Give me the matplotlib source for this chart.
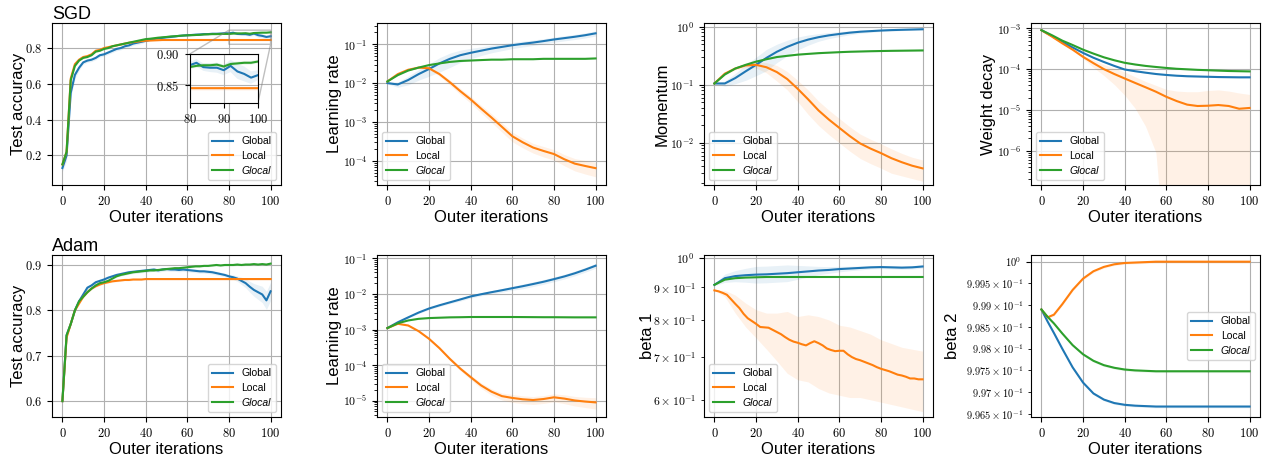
import numpy as np
import matplotlib
matplotlib.use("Agg")
import matplotlib.pyplot as plt
from matplotlib import ticker

plt.rcParams['font.family'] = ['Liberation Sans', 'DejaVu Sans']
plt.rcParams['mathtext.fontset'] = 'cm'

# x grids
x_acc = list(range(0, 101, 2))
x_hp = list(range(0, 101, 5))
x_b2 = [0, 3, 6] + list(range(10, 101, 5))

# ---- SGD: test accuracy ----
sgd_acc_global = [0.13, 0.20, 0.55, 0.65, 0.69, 0.72, 0.73, 0.735, 0.745, 0.76,
                  0.765, 0.775, 0.785, 0.795, 0.80, 0.81, 0.815, 0.825, 0.83, 0.835,
                  0.84, 0.845, 0.85, 0.855, 0.857, 0.86, 0.862, 0.865, 0.868, 0.87,
                  0.872, 0.873, 0.875, 0.876, 0.878, 0.878, 0.88, 0.88, 0.881, 0.883,
                  0.882, 0.886, 0.879, 0.878, 0.878, 0.874, 0.881, 0.872, 0.868, 0.862,
                  0.866]
sgd_acc_local = [0.15, 0.22, 0.63, 0.71, 0.735, 0.75, 0.755, 0.765, 0.785, 0.79,
                 0.80, 0.805, 0.81, 0.815, 0.82, 0.825, 0.83, 0.833, 0.836, 0.839,
                 0.841, 0.842, 0.843, 0.844] + [0.845] * 27
sgd_acc_glocal = [0.15, 0.22, 0.62, 0.70, 0.73, 0.745, 0.75, 0.76, 0.78, 0.785,
                  0.795, 0.80, 0.81, 0.815, 0.82, 0.825, 0.83, 0.835, 0.84, 0.845,
                  0.85, 0.852, 0.855, 0.858, 0.86, 0.862, 0.865, 0.866, 0.868, 0.87,
                  0.871, 0.872, 0.873, 0.874, 0.876, 0.877, 0.878, 0.878, 0.879, 0.879,
                  0.879, 0.881, 0.882, 0.882, 0.883, 0.880, 0.884, 0.885, 0.886, 0.886,
                  0.888]
sgd_acc_global_std = ([0.02, 0.03, 0.03, 0.02, 0.015] + [0.01] * 15 + [0.005] * 20
                      + [0.005, 0.006, 0.006, 0.007, 0.008, 0.008, 0.01, 0.012, 0.012, 0.01, 0.008])
sgd_acc_other_std = 0.003

# ---- SGD: learning rate / momentum / weight decay ----
sgd_lr_global = [0.010, 0.0092, 0.012, 0.017, 0.023, 0.032, 0.042, 0.052, 0.060, 0.068,
                 0.077, 0.085, 0.094, 0.102, 0.110, 0.120, 0.132, 0.143, 0.155, 0.170, 0.190]
sgd_lr_local = [0.011, 0.017, 0.022, 0.025, 0.024, 0.017, 0.0105, 0.0062, 0.0038, 0.0022,
                0.0013, 0.00075, 0.00043, 0.00030, 0.00022, 0.00018, 0.00015, 0.00011,
                0.000085, 0.000074, 0.000065]
sgd_lr_glocal = [0.011, 0.016, 0.021, 0.025, 0.029, 0.032, 0.035, 0.037, 0.038, 0.039,
                 0.040, 0.040, 0.041, 0.041, 0.041, 0.042, 0.042, 0.042, 0.042, 0.042, 0.043]
sgd_lr_global_rel = [0.05, 0.15, 0.25, 0.3, 0.35, 0.4, 0.4, 0.35, 0.3, 0.25, 0.22,
                     0.2, 0.18, 0.17, 0.16, 0.15, 0.15, 0.15, 0.15, 0.15, 0.15]
sgd_lr_local_rel = [0.02, 0.05, 0.05, 0.05, 0.08, 0.12, 0.15, 0.18, 0.2, 0.22, 0.25,
                    0.27, 0.28, 0.28, 0.28, 0.3, 0.3, 0.32, 0.35, 0.38, 0.4]

sgd_mom_global = [0.105, 0.105, 0.13, 0.17, 0.22, 0.29, 0.37, 0.45, 0.53, 0.60, 0.66,
                  0.71, 0.75, 0.79, 0.82, 0.84, 0.86, 0.875, 0.885, 0.895, 0.905]
sgd_mom_local = [0.105, 0.155, 0.19, 0.215, 0.22, 0.20, 0.165, 0.125, 0.085, 0.056, 0.036,
                 0.025, 0.018, 0.013, 0.0097, 0.0079, 0.0066, 0.0054, 0.0046, 0.0040, 0.0036]
sgd_mom_glocal = [0.105, 0.15, 0.19, 0.22, 0.25, 0.275, 0.30, 0.315, 0.33, 0.34, 0.35,
                  0.357, 0.364, 0.37, 0.374, 0.378, 0.381, 0.384, 0.386, 0.388, 0.39]
sgd_mom_global_rel = [0.02, 0.1, 0.2, 0.3, 0.35, 0.4, 0.35, 0.3, 0.25, 0.2, 0.15,
                      0.12, 0.1, 0.08, 0.06, 0.05, 0.04, 0.04, 0.03, 0.03, 0.03]
sgd_mom_local_rel = [0.02, 0.05, 0.05, 0.08, 0.12, 0.2, 0.3, 0.35, 0.4, 0.45, 0.45,
                     0.45, 0.45, 0.45, 0.45, 0.45, 0.45, 0.45, 0.42, 0.4, 0.4]

sgd_wd_global = [9e-4, 6.5e-4, 4.6e-4, 3.4e-4, 2.5e-4, 1.9e-4, 1.5e-4, 1.2e-4, 9.8e-5, 8.9e-5,
                 8.2e-5, 7.6e-5, 7.2e-5, 6.9e-5, 6.7e-5, 6.6e-5, 6.5e-5, 6.4e-5, 6.35e-5, 6.3e-5, 6.3e-5]
sgd_wd_local = [9e-4, 6.3e-4, 4.3e-4, 3.0e-4, 2.0e-4, 1.4e-4, 1.0e-4, 7.6e-5, 5.9e-5, 4.6e-5,
                3.6e-5, 2.8e-5, 2.1e-5, 1.65e-5, 1.35e-5, 1.25e-5, 1.27e-5, 1.32e-5, 1.25e-5, 1.07e-5, 1.12e-5]
sgd_wd_glocal = [9e-4, 6.8e-4, 5.0e-4, 3.9e-4, 3.0e-4, 2.4e-4, 1.95e-4, 1.65e-4, 1.43e-4, 1.3e-4,
                 1.2e-4, 1.13e-4, 1.07e-4, 1.02e-4, 9.9e-5, 9.6e-5, 9.4e-5, 9.2e-5, 9.0e-5, 8.9e-5, 8.8e-5]
sgd_wd_local_lo = [9e-4, 6.2e-4, 4.2e-4, 2.9e-4, 1.8e-4, 1.1e-4, 7e-5, 4.2e-5, 2.3e-5, 1.1e-5,
                   4e-6, 9e-7, 1e-9, 1e-9, 1e-9, 1e-9, 1e-9, 1e-9, 1e-9, 1e-9, 1e-9]
sgd_wd_local_hi = [9e-4, 6.4e-4, 4.5e-4, 3.2e-4, 2.2e-4, 1.7e-4, 1.3e-4, 1.05e-4, 8.5e-5, 6.5e-5,
                   5e-5, 4e-5, 3.2e-5, 2.9e-5, 2.8e-5, 2.8e-5, 3e-5, 3.1e-5, 2.9e-5, 2.6e-5, 2.4e-5]

# ---- Adam: test accuracy ----
adam_acc_global = [0.60, 0.745, 0.77, 0.80, 0.82, 0.835, 0.85, 0.855, 0.862, 0.865,
                   0.868, 0.872, 0.875, 0.878, 0.88, 0.882, 0.884, 0.885, 0.886, 0.887,
                   0.888, 0.889, 0.89, 0.888, 0.89, 0.891, 0.89, 0.89, 0.889, 0.89,
                   0.889, 0.888, 0.887, 0.886, 0.886, 0.885, 0.884, 0.882, 0.88, 0.878,
                   0.875, 0.873, 0.87, 0.865, 0.86, 0.852, 0.845, 0.84, 0.835, 0.822,
                   0.842]
adam_acc_local = [0.60, 0.74, 0.77, 0.80, 0.815, 0.83, 0.84, 0.848, 0.853, 0.857,
                  0.86, 0.862, 0.864, 0.865, 0.866, 0.867, 0.867, 0.868, 0.868, 0.868,
                  0.869] + [0.869] * 30
adam_acc_glocal = [0.60, 0.745, 0.77, 0.80, 0.82, 0.83, 0.84, 0.848, 0.855, 0.86,
                   0.862, 0.865, 0.87, 0.875, 0.878, 0.88, 0.882, 0.884, 0.885, 0.886,
                   0.887, 0.888, 0.888, 0.889, 0.89, 0.891, 0.892, 0.893, 0.893, 0.894,
                   0.895, 0.896, 0.897, 0.897, 0.898, 0.898, 0.899, 0.90, 0.899, 0.90,
                   0.90, 0.90, 0.901, 0.90, 0.901, 0.901, 0.902, 0.901, 0.902, 0.901,
                   0.903]
adam_acc_global_std = [0.004] * 40 + [0.004, 0.005, 0.006, 0.008, 0.01, 0.012, 0.014,
                                      0.016, 0.018, 0.02, 0.02]
adam_acc_other_std = 0.002

# ---- Adam: learning rate / beta1 / beta2 ----
adam_lr_global = [1.1e-3, 1.6e-3, 2.2e-3, 3.0e-3, 3.9e-3, 4.8e-3, 5.8e-3, 7.0e-3, 8.5e-3, 9.8e-3,
                  1.12e-2, 1.27e-2, 1.45e-2, 1.65e-2, 1.9e-2, 2.2e-2, 2.6e-2, 3.1e-2, 3.8e-2, 4.8e-2, 6.2e-2]
adam_lr_local = [1.1e-3, 1.45e-3, 1.3e-3, 9e-4, 5.5e-4, 3.0e-4, 1.5e-4, 8e-5, 4.6e-5, 2.7e-5,
                 1.8e-5, 1.35e-5, 1.2e-5, 1.1e-5, 1.05e-5, 1.12e-5, 1.25e-5, 1.15e-5, 1.02e-5, 9.5e-6, 9.0e-6]
adam_lr_glocal = [1.1e-3, 1.5e-3, 1.8e-3, 2.0e-3, 2.1e-3, 2.15e-3, 2.2e-3, 2.22e-3, 2.25e-3, 2.25e-3,
                  2.25e-3, 2.25e-3, 2.25e-3, 2.24e-3, 2.23e-3, 2.22e-3, 2.22e-3, 2.21e-3, 2.2e-3, 2.2e-3, 2.2e-3]
adam_lr_global_rel = [0.02, 0.05, 0.05, 0.06, 0.07, 0.08, 0.08, 0.1, 0.1, 0.1, 0.1,
                      0.12, 0.12, 0.15, 0.15, 0.15, 0.15, 0.15, 0.15, 0.15, 0.15]
adam_lr_local_rel = [0.02, 0.03, 0.04, 0.05, 0.06, 0.08, 0.1, 0.12, 0.15, 0.18, 0.2,
                     0.22, 0.25, 0.25, 0.25, 0.25, 0.25, 0.28, 0.3, 0.32, 0.35]

adam_b1_global = [0.908, 0.93, 0.937, 0.94, 0.942, 0.943, 0.945, 0.947, 0.950, 0.953, 0.956,
                  0.958, 0.961, 0.963, 0.965, 0.967, 0.968, 0.967, 0.966, 0.967, 0.970]
adam_b1_glocal = [0.908, 0.925, 0.930, 0.932, 0.933, 0.934, 0.934, 0.934, 0.934, 0.934, 0.934,
                  0.934, 0.934, 0.934, 0.934, 0.934, 0.934, 0.934, 0.934, 0.934, 0.934]
adam_b1_global_rel = [0.003, 0.015, 0.02, 0.025, 0.03, 0.03, 0.03, 0.03, 0.025, 0.02, 0.015,
                      0.012, 0.01, 0.008, 0.007, 0.006, 0.006, 0.006, 0.006, 0.006, 0.006]
adam_b1_local = [0.890, 0.887, 0.882, 0.876, 0.862, 0.848, 0.835, 0.818, 0.805, 0.797,
                 0.789, 0.780, 0.779, 0.778, 0.772, 0.766, 0.760, 0.752, 0.745, 0.740,
                 0.737, 0.733, 0.730, 0.736, 0.741, 0.736, 0.730, 0.722, 0.718, 0.715,
                 0.716, 0.716, 0.707, 0.700, 0.695, 0.692, 0.688, 0.684, 0.680, 0.675,
                 0.671, 0.668, 0.665, 0.661, 0.657, 0.655, 0.652, 0.648, 0.648, 0.646,
                 0.646]
adam_b1_local_hi = [0.89, 0.89, 0.875, 0.85, 0.83, 0.82, 0.82, 0.825, 0.81, 0.815, 0.81,
                    0.80, 0.785, 0.78, 0.77, 0.76, 0.745, 0.735, 0.725, 0.72, 0.715]
adam_b1_local_lo = [0.89, 0.87, 0.82, 0.78, 0.75, 0.72, 0.69, 0.66, 0.645, 0.64, 0.625,
                    0.615, 0.61, 0.605, 0.605, 0.60, 0.595, 0.59, 0.585, 0.58, 0.575]

adam_b2_global = [0.99890, 0.99862, 0.99836, 0.99800, 0.99757, 0.99722, 0.99697, 0.99683,
                  0.99675, 0.99671, 0.99669, 0.99668] + [0.99667] * 10
adam_b2_local = [0.99890, 0.99872, 0.99878, 0.99902, 0.99935, 0.99961, 0.99978, 0.99988,
                 0.99994, 0.99997, 0.99998, 0.99999] + [1.0] * 10
adam_b2_glocal = [0.99890, 0.99873, 0.99858, 0.99835, 0.99808, 0.99787, 0.99772, 0.99762,
                  0.99756, 0.99752, 0.99750, 0.99749] + [0.99748] * 10
adam_b2_std = 0.00003

labels = ['Global', 'Local', 'Glocal']
colors = ['tab:blue', 'tab:orange', 'tab:green']


def math_fmt(fmt):
    return ticker.FuncFormatter(lambda v, p: '$' + fmt.format(v) + '$')


def pow_fmt(v, p):
    if v <= 0:
        return ''
    return r'$10^{%d}$' % int(round(np.log10(v)))


fig = plt.figure(figsize=(12.7, 4.58), dpi=100)
lefts = [52, 377, 704, 1031]
tops = [23, 255]
W, H = 229, 162


def make_ax(row, col):
    ax = fig.add_axes([lefts[col] / 1270, 1 - (tops[row] + H) / 458, W / 1270, H / 458])
    ax.grid(True, which='major', color='#b0b0b0', lw=0.8)
    ax.set_axisbelow(True)
    ax.set_xlim(-5, 105)
    ax.set_xticks([0, 20, 40, 60, 80, 100])
    ax.xaxis.set_major_formatter(math_fmt('{:.0f}'))
    ax.tick_params(labelsize=9, which='both')
    ax.set_xlabel('Outer iterations', fontsize=12, labelpad=2)
    return ax


def ylabel(ax, text, xpos):
    ax.set_ylabel(text, fontsize=12)
    ax.yaxis.set_label_coords(xpos, 0.5)


def legend(ax, loc):
    leg = ax.legend(loc=loc, fontsize=7.5, labelspacing=0.45)
    leg.get_texts()[2].set_fontstyle('italic')
    return leg


def draw(ax, xs, ys, los, his, loc):
    for x, y, lo, hi, lab, c in zip(xs, ys, los, his, labels, colors):
        ax.fill_between(x, lo, hi, color=c, alpha=0.1, lw=0)
        ax.plot(x, y, color=c, lw=1.5, label=lab)
    return legend(ax, loc)


def rel_band(y, rel):
    y = np.array(y)
    rel = np.array(rel)
    return y * (1 - rel), y * (1 + rel)


def set_log(ax, lim):
    ax.set_yscale('log')
    ax.set_ylim(*lim)
    ax.yaxis.set_major_locator(ticker.LogLocator(base=10, numticks=20))
    ax.yaxis.set_minor_locator(ticker.LogLocator(base=10, subs=np.arange(2, 10), numticks=20))
    ax.yaxis.set_major_formatter(ticker.FuncFormatter(pow_fmt))
    ax.yaxis.set_minor_formatter(ticker.NullFormatter())
    ax.tick_params(axis='y', labelsize=8.5, which='both')


# ---------- SGD accuracy ----------
ax = make_ax(0, 0)
g = np.array(sgd_acc_global)
gs = np.array(sgd_acc_global_std)
acc_lo = [g - gs, np.array(sgd_acc_local) - sgd_acc_other_std, np.array(sgd_acc_glocal) - sgd_acc_other_std]
acc_hi = [g + gs, np.array(sgd_acc_local) + sgd_acc_other_std, np.array(sgd_acc_glocal) + sgd_acc_other_std]
draw(ax, [x_acc] * 3, [sgd_acc_global, sgd_acc_local, sgd_acc_glocal], acc_lo, acc_hi, 'lower right')
ax.set_ylim(0.035, 0.94)
ax.set_yticks([0.2, 0.4, 0.6, 0.8])
ax.yaxis.set_major_formatter(math_fmt('{:.1f}'))
ylabel(ax, 'Test accuracy', -0.114)
ax.set_title('SGD', loc='left', fontsize=13, pad=3)

axins = ax.inset_axes([0.601, 0.506, 0.298, 0.302])
for y, lo, hi, c in zip([sgd_acc_global, sgd_acc_local, sgd_acc_glocal], acc_lo, acc_hi, colors):
    axins.fill_between(x_acc, lo, hi, color=c, alpha=0.1, lw=0)
    axins.plot(x_acc, y, color=c, lw=1.5)
axins.set_xlim(80, 100)
axins.set_ylim(0.821, 0.90)
axins.set_xticks([80, 90, 100])
axins.set_yticks([0.85, 0.90])
axins.xaxis.set_major_formatter(math_fmt('{:.0f}'))
axins.yaxis.set_major_formatter(math_fmt('{:.2f}'))
axins.tick_params(labelsize=9)
axins.grid(True, color='#b0b0b0', lw=0.8)
ind = ax.indicate_inset_zoom(axins, edgecolor='0.5')
for conn, vis in zip(ind.connectors, [False, True, True, False]):
    conn.set_visible(vis)

# ---------- SGD learning rate ----------
ax = make_ax(0, 1)
bands = [rel_band(sgd_lr_global, sgd_lr_global_rel), rel_band(sgd_lr_local, sgd_lr_local_rel),
         rel_band(sgd_lr_glocal, 0.02)]
draw(ax, [x_hp] * 3, [sgd_lr_global, sgd_lr_local, sgd_lr_glocal],
     [b[0] for b in bands], [b[1] for b in bands], 'lower left')
set_log(ax, (2.4e-5, 0.35))
ylabel(ax, 'Learning rate', -0.155)

# ---------- SGD momentum ----------
ax = make_ax(0, 2)
bands = [rel_band(sgd_mom_global, sgd_mom_global_rel), rel_band(sgd_mom_local, sgd_mom_local_rel),
         rel_band(sgd_mom_glocal, 0.02)]
draw(ax, [x_hp] * 3, [sgd_mom_global, sgd_mom_local, sgd_mom_glocal],
     [b[0] for b in bands], [b[1] for b in bands], 'lower left')
set_log(ax, (1.86e-3, 1.16))
ylabel(ax, 'Momentum', -0.15)

# ---------- SGD weight decay ----------
ax = make_ax(0, 3)
bands = [rel_band(sgd_wd_global, 0.03), (sgd_wd_local_lo, sgd_wd_local_hi),
         rel_band(sgd_wd_glocal, 0.02)]
draw(ax, [x_hp] * 3, [sgd_wd_global, sgd_wd_local, sgd_wd_glocal],
     [b[0] for b in bands], [b[1] for b in bands], 'lower left')
set_log(ax, (1.45e-7, 1.35e-3))
ylabel(ax, 'Weight decay', -0.152)

# ---------- Adam accuracy ----------
ax = make_ax(1, 0)
g = np.array(adam_acc_global)
gs = np.array(adam_acc_global_std)
draw(ax, [x_acc] * 3, [adam_acc_global, adam_acc_local, adam_acc_glocal],
     [g - gs, np.array(adam_acc_local) - adam_acc_other_std, np.array(adam_acc_glocal) - adam_acc_other_std],
     [g + gs, np.array(adam_acc_local) + adam_acc_other_std, np.array(adam_acc_glocal) + adam_acc_other_std],
     'lower right')
ax.set_ylim(0.565, 0.922)
ax.set_yticks([0.6, 0.7, 0.8, 0.9])
ax.yaxis.set_major_formatter(math_fmt('{:.1f}'))
ylabel(ax, 'Test accuracy', -0.114)
ax.set_title('Adam', loc='left', fontsize=13, pad=3)

# ---------- Adam learning rate ----------
ax = make_ax(1, 1)
bands = [rel_band(adam_lr_global, adam_lr_global_rel), rel_band(adam_lr_local, adam_lr_local_rel),
         rel_band(adam_lr_glocal, 0.02)]
draw(ax, [x_hp] * 3, [adam_lr_global, adam_lr_local, adam_lr_glocal],
     [b[0] for b in bands], [b[1] for b in bands], 'lower left')
set_log(ax, (3.5e-6, 0.124))
ylabel(ax, 'Learning rate', -0.155)

# ---------- Adam beta 1 ----------
ax = make_ax(1, 2)
gb = rel_band(adam_b1_global, adam_b1_global_rel)
ax.fill_between(x_hp, gb[0], gb[1], color=colors[0], alpha=0.1, lw=0)
ax.fill_between(x_hp, adam_b1_local_lo, adam_b1_local_hi, color=colors[1], alpha=0.1, lw=0)
ax.plot(x_hp, adam_b1_global, color=colors[0], lw=1.5, label=labels[0])
ax.plot(x_acc, adam_b1_local, color=colors[1], lw=1.5, label=labels[1])
ax.plot(x_hp, adam_b1_glocal, color=colors[2], lw=1.5, label=labels[2])
legend(ax, 'lower left')
ax.set_yscale('log')
ax.set_ylim(0.564, 1.011)
ax.yaxis.set_major_locator(ticker.FixedLocator([1.0]))
ax.yaxis.set_major_formatter(ticker.FixedFormatter([r'$10^{0}$']))
ax.yaxis.set_minor_locator(ticker.FixedLocator([0.6, 0.7, 0.8, 0.9]))
ax.yaxis.set_minor_formatter(ticker.FixedFormatter(
    [r'$6\times10^{-1}$', r'$7\times10^{-1}$', r'$8\times10^{-1}$', r'$9\times10^{-1}$']))
ax.tick_params(axis='y', labelsize=8.5, which='both')
ylabel(ax, 'beta 1', -0.214)

# ---------- Adam beta 2 ----------
ax = make_ax(1, 3)
draw(ax, [x_b2] * 3, [adam_b2_global, adam_b2_local, adam_b2_glocal],
     [np.array(adam_b2_global) - adam_b2_std, np.array(adam_b2_local) - adam_b2_std,
      np.array(adam_b2_glocal) - adam_b2_std],
     [np.array(adam_b2_global) + adam_b2_std, np.array(adam_b2_local) + adam_b2_std,
      np.array(adam_b2_glocal) + adam_b2_std],
     'center right')
ax.set_yscale('log')
ax.set_ylim(0.99643, 1.000154)
b2_ticks = [0.9965, 0.997, 0.9975, 0.998, 0.9985, 0.999, 0.9995]
ax.yaxis.set_major_locator(ticker.FixedLocator([1.0]))
ax.yaxis.set_major_formatter(ticker.FixedFormatter([r'$10^{0}$']))
ax.yaxis.set_minor_locator(ticker.FixedLocator(b2_ticks))
ax.yaxis.set_minor_formatter(ticker.FixedFormatter(
    [r'$%s\times10^{-1}$' % ('%g' % (t * 10)) for t in b2_ticks]))
ax.tick_params(axis='y', labelsize=7.5, which='both')
ylabel(ax, 'beta 2', -0.31)

fig.savefig('out.png', dpi=100)
